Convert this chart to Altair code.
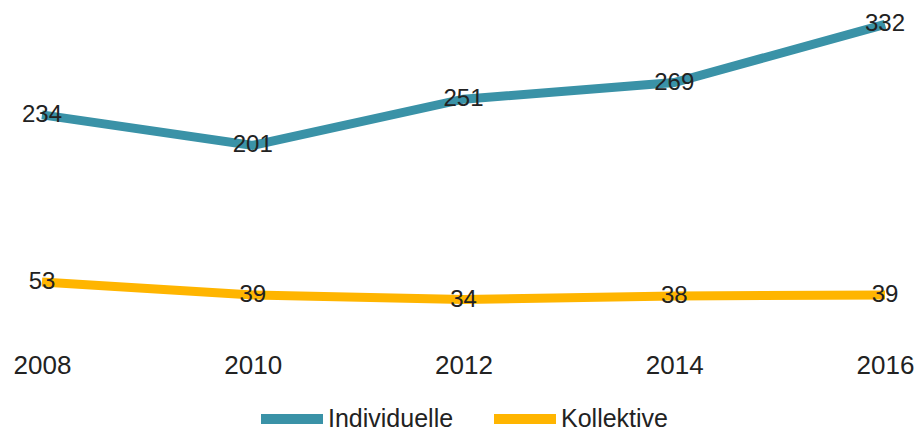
import altair as alt
import pandas as pd

years = [2008, 2010, 2012, 2014, 2016]
individuelle = [234, 201, 251, 269, 332]
kollektive = [53, 39, 34, 38, 39]
series = ["Individuelle", "Kollektive"]
colors = ["#3a92a7", "#ffb500"]

rows = []
for y, v in zip(years, individuelle):
    rows.append({"Jahr": y, "Wert": v, "Serie": series[0]})
for y, v in zip(years, kollektive):
    rows.append({"Jahr": y, "Wert": v, "Serie": series[1]})
df = pd.DataFrame(rows)

FONT = "Liberation Sans"

x = alt.X("Jahr:Q", scale=alt.Scale(domain=[2008, 2016], nice=False, zero=False),
          axis=alt.Axis(values=years, format="d", title=None, grid=False, domain=False,
                        ticks=False, labelFontSize=26, labelFont=FONT, labelColor="#222222",
                        labelPadding=21, labelFlush=False))
y = alt.Y("Wert:Q", scale=alt.Scale(domain=[0, 340], nice=False), axis=None)
color = alt.Color("Serie:N", scale=alt.Scale(domain=series, range=colors),
                  sort=series,
                  legend=alt.Legend(title=None, orient="none", direction="horizontal",
                                    legendX=214, legendY=366,
                                    symbolType="stroke", symbolSize=3844, symbolStrokeWidth=10,
                                    labelFontSize=25, labelFont=FONT, labelColor="#222222",
                                    labelOffset=0, columnPadding=20, symbolOffset=0))

lines = alt.Chart(df).mark_line(strokeWidth=9).encode(x=x, y=y, color=color,
                                                      detail="Serie:N")
labels = alt.Chart(df).mark_text(fontSize=24, font=FONT, color="#222222",
                                 align="center", baseline="middle").encode(
    x="Jahr:Q", y="Wert:Q", text="Wert:Q")

chart = alt.layer(lines, labels).properties(
    width=843, height=314,
    autosize=alt.AutoSizeParams(type="none"),
    padding={"left": 42, "top": 17, "right": 32, "bottom": 103},
).configure(background="white").configure_view(stroke=None)

chart.save("out.html", embed_options={"renderer": "svg", "actions": False})
